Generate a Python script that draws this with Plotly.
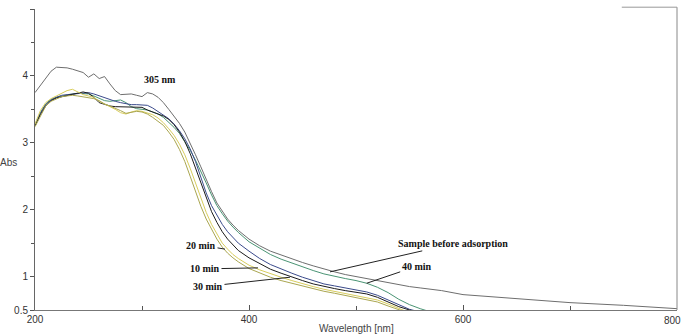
import plotly.graph_objects as go

wavelength = [200,205,210,215,220,225,230,235,240,245,250,255,260,265,270,275,280,285,290,295,
              300,305,310,315,320,325,330,335,340,345,350,355,360,365,370,375,380,385,390,
              400,410,420,430,440,450,460,470,480,490,500,510,520,530,540,550,560,570,580,
              600,650,700,750,800]

sample_before = [3.75,3.86,3.97,4.07,4.13,4.13,4.12,4.10,4.08,4.05,3.98,4.03,3.96,3.99,3.88,3.78,3.72,3.72,3.73,3.71,
                 3.69,3.75,3.73,3.68,3.60,3.50,3.40,3.29,3.16,3.00,2.82,2.64,2.45,2.27,2.10,1.97,1.86,1.77,1.69,
                 1.56,1.46,1.38,1.32,1.27,1.21,1.16,1.11,1.07,1.03,1.00,0.97,0.94,0.91,0.87,0.85,0.83,0.81,0.79,
                 0.73,0.67,0.61,0.57,0.52]

min40 = [3.27,3.45,3.58,3.65,3.68,3.70,3.71,3.73,3.74,3.74,3.73,3.70,3.67,3.63,3.62,3.63,3.64,3.60,3.54,3.51,
         3.50,3.49,3.46,3.43,3.38,3.31,3.23,3.14,3.02,2.89,2.74,2.58,2.40,2.22,2.06,1.94,1.83,1.74,1.66,
         1.52,1.42,1.33,1.26,1.20,1.14,1.09,1.04,1.00,0.97,0.94,0.90,0.84,0.76,0.66,0.58,0.52,0.47,0.44,
         None,None,None,None,None]

scan_navy = [3.26,3.44,3.57,3.64,3.68,3.71,3.72,3.73,3.74,3.75,3.75,3.73,3.70,3.67,3.64,3.62,3.60,3.58,3.57,3.57,
             3.57,3.56,3.52,3.47,3.42,3.36,3.28,3.18,3.06,2.91,2.72,2.48,2.25,2.06,1.91,1.78,1.67,1.58,1.50,
             1.38,1.27,1.18,1.11,1.05,0.99,0.94,0.89,0.86,0.83,0.80,0.77,0.72,0.65,0.57,0.51,0.47,0.44,None,
             None,None,None,None,None]

min30 = [3.25,3.42,3.55,3.63,3.67,3.69,3.70,3.72,3.74,3.76,3.74,3.68,3.60,3.57,3.55,3.54,3.54,3.54,3.54,3.54,
         3.53,3.49,3.46,3.43,3.40,3.35,3.27,3.16,3.02,2.84,2.62,2.38,2.16,1.97,1.81,1.67,1.56,1.47,1.39,
         1.28,1.19,1.11,1.05,0.99,0.94,0.89,0.85,0.82,0.79,0.77,0.74,0.69,0.62,0.55,0.50,0.46,0.43,None,
         None,None,None,None,None]

min10 = [3.28,3.48,3.60,3.66,3.70,3.74,3.78,3.80,3.76,3.72,3.70,3.68,3.62,3.58,3.55,3.50,3.45,3.43,3.46,3.48,
         3.47,3.45,3.42,3.37,3.30,3.21,3.11,2.98,2.82,2.62,2.40,2.17,1.96,1.78,1.63,1.50,1.41,1.33,1.27,
         1.17,1.10,1.04,0.99,0.94,0.89,0.85,0.81,0.78,0.75,0.72,0.69,0.65,0.59,0.52,0.46,0.42,None,None,
         None,None,None,None,None]

min20 = [3.24,3.40,3.55,3.62,3.66,3.69,3.70,3.71,3.70,3.69,3.68,3.66,3.63,3.58,3.55,3.52,3.48,3.44,3.45,3.47,
         3.46,3.43,3.38,3.32,3.26,3.16,3.05,2.90,2.72,2.50,2.27,2.05,1.86,1.70,1.56,1.44,1.35,1.28,1.22,
         1.12,1.05,0.99,0.94,0.90,0.85,0.81,0.78,0.75,0.72,0.69,0.66,0.62,0.56,0.50,0.45,0.41,None,None,
         None,None,None,None,None]

series = [
    ("Sample before adsorption", sample_before, "#6e6e6e"),
    ("40 min", min40, "#4a9474"),
    ("Scan", scan_navy, "#3b4b8c"),
    ("30 min", min30, "#1c1c1c"),
    ("10 min", min10, "#d8cd5c"),
    ("20 min", min20, "#aaa650"),
]

x_ticks = [200, 400, 600, 800]
x_tick_text = ["200", "400", "600", ""]
x_minor = [300, 500, 700]
y_ticks = [0.5, 1, 2, 3, 4, 5]
y_tick_text = ["0.5", "1", "2", "3", "4", ""]
y_minor = [1.5, 2.5, 3.5, 4.5]

fig = go.Figure()
for name, vals, col in series:
    fig.add_trace(go.Scatter(x=wavelength, y=vals, mode="lines", name=name,
                             line=dict(color=col, width=1), connectgaps=False))

lab_font = dict(family="Liberation Serif", size=10, color="#111")
ann = [
    dict(x=317, y=3.94, text="<b>305 nm</b>", showarrow=False),
    dict(x=475.7, y=1.07, text="<b>Sample before adsorption</b>", ax=123, ay=-28),
    dict(x=510, y=0.90, text="<b>40 min</b>", ax=50, ay=-17),
    dict(x=377.6, y=1.41, text="<b>20 min</b>", ax=-24, ay=-4),
    dict(x=408.4, y=1.13, text="<b>10 min</b>", ax=-53, ay=1),
    dict(x=438.3, y=0.99, text="<b>30 min</b>", ax=-82, ay=9),
]
for a in ann:
    base = dict(xref="x", yref="y", font=lab_font, showarrow=True, arrowhead=0,
                arrowwidth=1, arrowcolor="#222", standoff=0, startstandoff=0)
    base.update(a)
    fig.add_annotation(**base)

# right frame and partial top frame
fig.add_shape(type="line", xref="paper", yref="paper", x0=1, x1=1, y0=0, y1=1.006,
              line=dict(color="#888", width=1))
fig.add_shape(type="line", xref="paper", yref="paper", x0=0.914, x1=1, y0=1.006, y1=1.006,
              line=dict(color="#999", width=1))

tick_font = dict(family="Liberation Sans", size=10, color="#333")
side_font = dict(family="Liberation Sans", size=10, color="#444")
fig.update_layout(
    width=683, height=335,
    margin=dict(l=35, r=6, t=9, b=25),
    paper_bgcolor="white", plot_bgcolor="white",
    showlegend=False,
    xaxis=dict(range=[200, 800], tickvals=x_ticks, ticktext=x_tick_text, ticks="inside", ticklen=5,
               tickcolor="#555", automargin=False,
               showgrid=False, zeroline=False, showline=True, linecolor="#777", linewidth=1,
               tickfont=tick_font,
               minor=dict(tickvals=x_minor, ticks="inside", ticklen=4, tickcolor="#555")),
    yaxis=dict(range=[0.5, 5.0], tickvals=y_ticks, ticktext=y_tick_text, ticks="outside", ticklen=4,
               tickcolor="#555", automargin=False, showgrid=False, zeroline=False, showline=True,
               linecolor="#666", linewidth=1, tickfont=tick_font,
               minor=dict(tickvals=y_minor, ticks="outside", ticklen=3, tickcolor="#555")),
)
fig.add_annotation(xref="paper", yref="paper", x=-0.042, y=0.49, text="Abs", showarrow=False,
                   font=side_font, xanchor="center")
fig.add_annotation(xref="paper", yref="paper", x=1.0093, y=-0.01, text="800", showarrow=False,
                   font=tick_font, xanchor="right", yanchor="top")
fig.add_annotation(xref="paper", yref="paper", x=0.5, y=-0.06, text="Wavelength [nm]", showarrow=False,
                   font=side_font, xanchor="center", yanchor="middle")

fig.write_html("out.html", config={"displayModeBar": False},
               post_script="document.body.style.margin='0';document.body.style.overflow='hidden';")
